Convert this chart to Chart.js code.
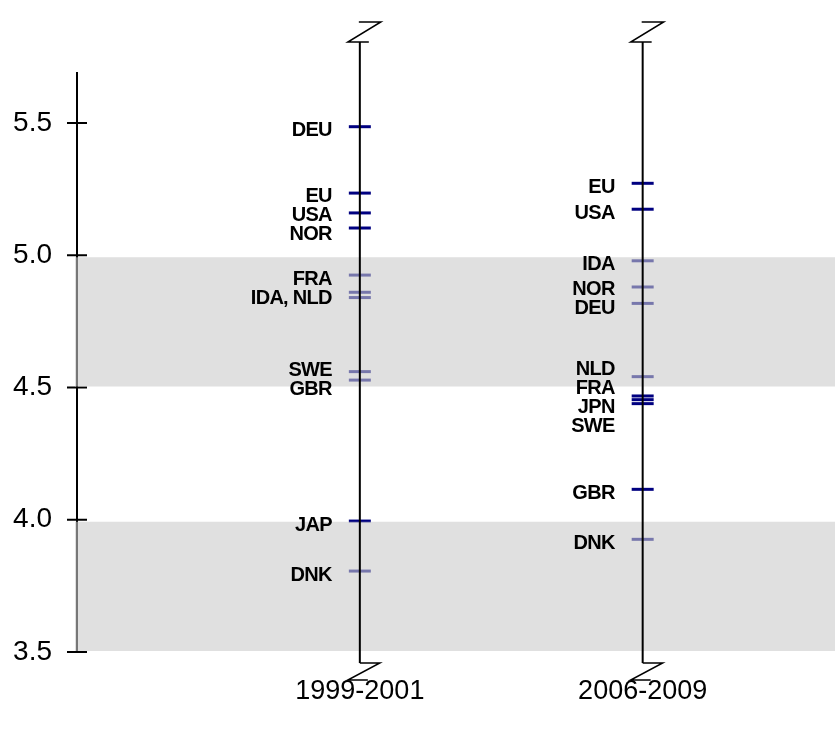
<!DOCTYPE html>
<html>
<head>
<meta charset="utf-8">
<script src="https://cdn.jsdelivr.net/npm/chart.js@4.4.1/dist/chart.umd.min.js"></script>
<style>
  html, body { margin: 0; padding: 0; background: #fff; overflow: hidden; }
  #wrap { width: 835px; height: 729px; position: relative; }
  canvas { display: block; }
</style>
</head>
<body>
<div id="wrap"><canvas id="chart"></canvas></div>
<script>
// Data
const periods = ['1999-2001', '2006-2009'];

const countries1999 = ['DEU', 'EU', 'USA', 'NOR', 'FRA', 'IDA', 'NLD', 'SWE', 'GBR', 'JAP', 'DNK'];
const values1999 = [5.486, 5.235, 5.16, 5.103, 4.925, 4.86, 4.84, 4.56, 4.528, 3.995, 3.806];
const joined1999 = [['IDA', 'NLD']]; // share one label

const countries2006 = ['EU', 'USA', 'IDA', 'NOR', 'DEU', 'NLD', 'FRA', 'JPN', 'SWE', 'GBR', 'DNK'];
const values2006 = [5.272, 5.174, 4.979, 4.88, 4.818, 4.541, 4.468, 4.454, 4.439, 4.115, 3.926];
const joined2006 = [];

const yTicks = [3.5, 4.0, 4.5, 5.0, 5.5];
const bandLow = [3.5, 4.5];
const bandHigh = [4.0, 5.0];

const MARK = '#000080';
const BAND = 'rgba(202, 202, 202, 0.59)'; // drawn over the marks, fades them
const FONT = '"Liberation Sans", Arial, sans-serif';

function points(xv, values) {
    return values.map(v => ({ x: xv, y: v }));
}

// merge names that share a label, keep the rest one per mark
function labelGroups(names, values, joined) {
    const groups = [];
    const used = new Set();
    names.forEach((n, i) => {
        if (used.has(n)) return;
        const j = joined.find(g => g.includes(n));
        if (j) {
            j.forEach(m => used.add(m));
            groups.push({ text: j.join(', '), vals: j.map(m => values[names.indexOf(m)]) });
        } else {
            used.add(n);
            groups.push({ text: n, vals: [values[i]] });
        }
    });
    return groups;
}

// push overlapping labels apart, both ways
function spread(ys, gap) {
    const out = ys.slice();
    for (let it = 0; it < 500; it++) {
        let moved = false;
        for (let i = 1; i < out.length; i++) {
            const d = out[i] - out[i - 1];
            if (d < gap - 0.01) {
                const s = (gap - d) / 2;
                out[i - 1] -= s;
                out[i] += s;
                moved = true;
            }
        }
        if (!moved) break;
    }
    return out;
}

const columns = [
    { xv: 1, groups: labelGroups(countries1999, values1999, joined1999) },
    { xv: 2, groups: labelGroups(countries2006, values2006, joined2006) }
];

const decor = {
    id: 'decor',
    beforeDatasetsDraw(chart) {
        const { ctx, chartArea, scales: { y } } = chart;
        // left axis with ticks on both sides
        ctx.save();
        ctx.strokeStyle = '#000';
        ctx.lineWidth = 2;
        const ax = chartArea.left;
        ctx.beginPath();
        ctx.moveTo(ax, y.getPixelForValue(5.5) - 51);
        ctx.lineTo(ax, y.getPixelForValue(3.5));
        yTicks.forEach(t => {
            const py = y.getPixelForValue(t);
            ctx.moveTo(ax - 10, py);
            ctx.lineTo(ax + 10, py);
        });
        ctx.stroke();
        ctx.restore();
    },
    afterDatasetsDraw(chart) {
        const { ctx, chartArea, scales: { x, y } } = chart;
        ctx.save();
        // grey bands, over axis and marks
        ctx.fillStyle = BAND;
        bandLow.forEach((lo, i) => {
            const t = y.getPixelForValue(bandHigh[i]) + 2;
            const b = y.getPixelForValue(lo) - 1;
            ctx.fillRect(chartArea.left - 2, t, chartArea.right - chartArea.left + 2, b - t);
        });

        ctx.strokeStyle = '#000';
        columns.forEach(col => {
            const cx = x.getPixelForValue(col.xv);
            const yt = y.getPixelForValue(5.5) - 81;
            const yb = y.getPixelForValue(3.5) + 11;
            ctx.lineWidth = 2;
            ctx.beginPath();
            ctx.moveTo(cx, yt);
            ctx.lineTo(cx, yb);
            ctx.stroke();
            // break marks
            ctx.lineWidth = 1.5;
            ctx.beginPath();
            ctx.moveTo(cx - 1, yt - 20);
            ctx.lineTo(cx + 21, yt - 20);
            ctx.lineTo(cx - 12, yt);
            ctx.lineTo(cx + 9, yt);
            ctx.moveTo(cx, yb);
            ctx.lineTo(cx + 20, yb);
            ctx.lineTo(cx - 12, yb + 17);
            ctx.lineTo(cx + 8, yb + 17);
            ctx.stroke();

            // country labels
            const anchors = col.groups.map(g =>
                g.vals.reduce((s, v) => s + y.getPixelForValue(v), 0) / g.vals.length);
            const pos = spread(anchors, 19);
            ctx.fillStyle = '#000';
            ctx.font = 'bold 20px ' + FONT;
            ctx.letterSpacing = '-0.7px';
            ctx.textAlign = 'right';
            ctx.textBaseline = 'middle';
            col.groups.forEach((g, i) => ctx.fillText(g.text, cx - 28, pos[i] + 4));
        });
        ctx.restore();
    }
};

new Chart(document.getElementById('chart'), {
    type: 'scatter',
    data: {
        datasets: [
            {
                label: periods[0],
                data: points(1, values1999),
                borderColor: MARK,
                pointStyle: 'line',
                pointRadius: 11,
                pointHoverRadius: 11,
                borderWidth: 3
            },
            {
                label: periods[1],
                data: points(2, values2006),
                borderColor: MARK,
                pointStyle: 'line',
                pointRadius: 11,
                pointHoverRadius: 11,
                borderWidth: 3
            }
        ]
    },
    options: {
        responsive: true,
        maintainAspectRatio: false,
        animation: false,
        layout: { autoPadding: false, padding: { top: 123, left: 0, right: 0, bottom: 0 } },
        plugins: { legend: { display: false }, tooltip: { enabled: false } },
        scales: {
            x: {
                type: 'linear',
                min: 0,
                max: 2.68,
                grid: { display: false, drawTicks: false },
                border: { display: false },
                afterBuildTicks: s => { s.ticks = [{ value: 1 }, { value: 2 }]; },
                afterFit: s => {
                    s.height = 77;
                    s.paddingLeft = 0;
                    s.paddingRight = 0;
                },
                ticks: {
                    padding: 23,
                    color: '#000',
                    font: { family: FONT, size: 27 },
                    callback: v => periods[v - 1]
                }
            },
            y: {
                min: 3.5,
                max: 5.5,
                grid: { display: false, drawTicks: false },
                border: { display: false },
                afterBuildTicks: s => { s.ticks = yTicks.map(v => ({ value: v })); },
                afterFit: s => {
                    s.width = 77;
                    s.paddingTop = 0;
                    s.paddingBottom = 0;
                },
                ticks: {
                    padding: 25,
                    color: '#000',
                    font: { family: FONT, size: 28 },
                    callback: v => v.toFixed(1)
                }
            }
        }
    },
    plugins: [decor]
});
</script>
</body>
</html>
